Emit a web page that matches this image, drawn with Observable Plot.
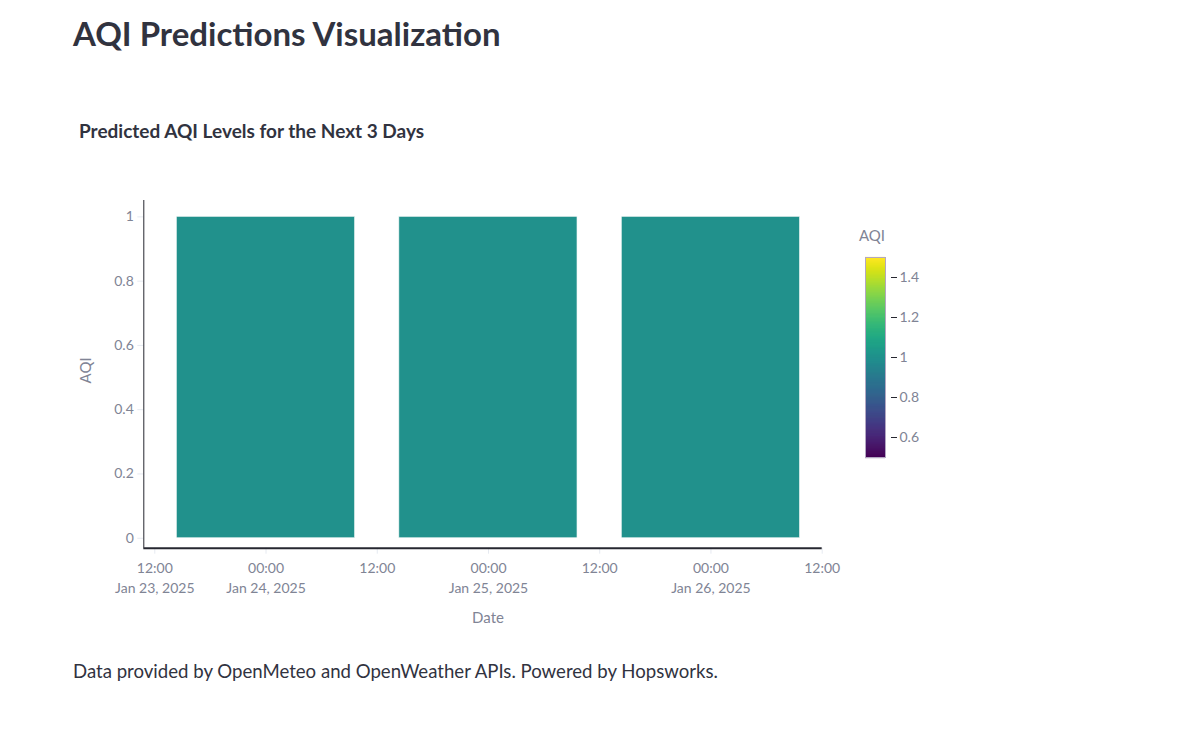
<!DOCTYPE html>
<html>
<head>
<meta charset="utf-8">
<script src="https://cdn.jsdelivr.net/npm/d3@7"></script>
<script src="https://cdn.jsdelivr.net/npm/@observablehq/plot@0.6"></script>
<style>
  html, body { margin: 0; padding: 0; background: #ffffff; }
  #page { position: relative; width: 1177px; height: 747px; overflow: hidden; font-family: Lato, "Noto Sans", sans-serif; color: #31333F; }
  .abs { position: absolute; margin: 0; line-height: 1; white-space: nowrap; }
  #title { left: 73px; top: 17px; font-size: 33px; font-weight: 700; }
  #subtitle { left: 79px; top: 121px; font-size: 19px; font-weight: 700; }
  #caption { left: 73px; top: 662px; font-size: 18.6px; font-weight: 400; }
  #cbtitle { left: 858px; top: 228px; width: 28px; text-align: center; font-size: 15px; color: #808495; }
  #main { left: 0; top: 190px; }
  #cbar { left: 865px; top: 247px; }
</style>
</head>
<body>
<div id="page">
  <h1 class="abs" id="title">AQI Predictions Visualization</h1>
  <div class="abs" id="subtitle">Predicted AQI Levels for the Next 3 Days</div>
  <div class="abs" id="main"></div>
  <div class="abs" id="cbtitle">AQI</div>
  <div class="abs" id="cbar"></div>
  <div class="abs" id="caption">Data provided by OpenMeteo and OpenWeather APIs. Powered by Hopsworks.</div>
</div>
<script>
// ---- data ----
const dayStrings = ["2025-01-24", "2025-01-25", "2025-01-26"];
const aqiValues = [1, 1, 1];
const xTickStrings = [
  "2025-01-23T12:00Z", "2025-01-24T00:00Z", "2025-01-24T12:00Z",
  "2025-01-25T00:00Z", "2025-01-25T12:00Z", "2025-01-26T00:00Z", "2025-01-26T12:00Z"
];
const yTickValues = [0, 0.2, 0.4, 0.6, 0.8, 1];
const colorTickValues = [0.6, 0.8, 1, 1.2, 1.4];
const colorDomain = [0.5, 1.5];
const xDomainStrings = ["2025-01-23T10:48:48Z", "2025-01-26T12:00Z"];
const yDomain = [-0.031, 1.051];
const xTitle = "Date";
const yTitle = "AQI";

// ---- derived ----
const data = dayStrings.map((s, i) => ({date: new Date(s + "T00:00Z"), aqi: aqiValues[i]}));
const xTicks = xTickStrings.map(s => new Date(s));
const xDomain = xDomainStrings.map(s => new Date(s));
const halfBarMinutes = 0.4 * 24 * 60;
const fmtTime = d3.utcFormat("%H:%M");
const fmtDate = d3.utcFormat("%b %-d, %Y");
const xTickFormat = (d, i) => (i === 0 || d.getUTCHours() === 0) ? fmtTime(d) + "\n" + fmtDate(d) : fmtTime(d);

const tickColor = "#808495";
const lightTick = "#e6eaf1";
const axisLine = "#262730";

const colorOpts = {type: "linear", scheme: "viridis", domain: colorDomain};

const main = Plot.plot({
  width: 900,
  height: 440,
  marginLeft: 143.3,
  marginRight: 78.3,
  marginTop: 10,
  marginBottom: 82.3,
  style: {fontFamily: "Lato, 'Noto Sans', sans-serif", fontSize: "14px", background: "white", overflow: "visible"},
  x: {type: "utc", domain: xDomain},
  y: {domain: yDomain},
  color: colorOpts,
  marks: [
    Plot.rect(data, {
      x1: d => d3.utcMinute.offset(d.date, -halfBarMinutes),
      x2: d => d3.utcMinute.offset(d.date, halfBarMinutes),
      y1: 0,
      y2: "aqi",
      fill: "aqi",
      stroke: "#eef5f4",
      strokeWidth: 0.6
    }),
    Plot.axisY({ticks: yTickValues, tickSize: 6, tickPadding: 4, stroke: lightTick, fill: tickColor, label: null, tickFormat: d => String(d)}),
    Plot.axisX({ticks: xTicks, tickSize: 6, tickPadding: 5, stroke: lightTick, fill: tickColor, label: null, tickFormat: xTickFormat, lineHeight: 1.43}),
    Plot.ruleX([xDomain[0]], {stroke: axisLine, strokeWidth: 1}),
    Plot.ruleY([yDomain[0]], {stroke: axisLine, strokeWidth: 2}),
    Plot.text([yTitle], {frameAnchor: "left", textAnchor: "middle", lineAnchor: "middle", dx: -58, dy: -4, rotate: -90, fontSize: 15, fill: tickColor}),
    Plot.text([xTitle], {frameAnchor: "bottom", textAnchor: "middle", lineAnchor: "middle", dx: 5, dy: 69.5, fontSize: 15, fill: tickColor})
  ]
});
document.getElementById("main").appendChild(main);

// color bar (vertical legend)
const ramp = d3.range(colorDomain[0], colorDomain[1] + 1e-9, 0.0025);
const cbar = Plot.plot({
  width: 80,
  height: 220,
  marginLeft: 0,
  marginRight: 60,
  marginTop: 10,
  marginBottom: 10,
  style: {fontFamily: "Lato, 'Noto Sans', sans-serif", fontSize: "14px", background: "white", overflow: "visible"},
  x: {axis: null},
  y: {domain: colorDomain, axis: null},
  color: colorOpts,
  marks: [
    Plot.ruleY(ramp, {y: d => d, stroke: d => d, strokeWidth: 1.2}),
    Plot.frame({stroke: "#b3a7c2", strokeWidth: 1}),
    Plot.axisY({anchor: "right", ticks: colorTickValues, tickSize: 6, dx: 5, tickPadding: 3, stroke: axisLine, fill: tickColor, label: null, tickFormat: d => String(d)})
  ]
});
document.getElementById("cbar").appendChild(cbar);
</script>
</body>
</html>
